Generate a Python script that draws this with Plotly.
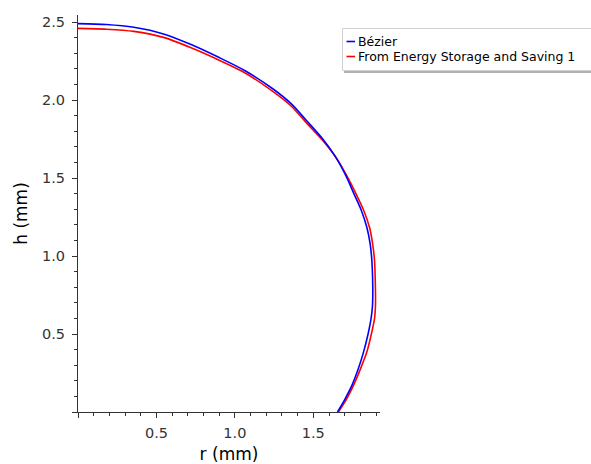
import plotly.graph_objects as go

# ---- data ----
bezier_r = [0.0, 0.18, 0.356, 0.55, 0.717, 0.90, 1.068, 1.246, 1.36, 1.459, 1.56, 1.639,
            1.705, 1.760, 1.805, 1.841, 1.862, 1.873, 1.879, 1.877, 1.868, 1.849,
            1.820, 1.786, 1.746, 1.70, 1.654]
bezier_h = [2.490, 2.484, 2.466, 2.422, 2.357, 2.272, 2.186, 2.069, 1.975, 1.865, 1.750, 1.640,
            1.520, 1.397, 1.295, 1.184, 1.080, 0.971, 0.795, 0.680, 0.598, 0.500,
            0.384, 0.275, 0.171, 0.080, 0.0]

ess_r = [0.0, 0.18, 0.356, 0.55, 0.717, 0.90, 1.068, 1.246, 1.36, 1.459, 1.56, 1.645,
         1.713, 1.773, 1.822, 1.858, 1.878, 1.890, 1.896, 1.896, 1.890, 1.870,
         1.841, 1.800, 1.756, 1.710, 1.660]
ess_h = [2.459, 2.454, 2.440, 2.400, 2.336, 2.255, 2.172, 2.052, 1.960, 1.850, 1.740, 1.630,
         1.515, 1.397, 1.290, 1.184, 1.078, 0.971, 0.779, 0.680, 0.598, 0.500,
         0.384, 0.275, 0.171, 0.080, 0.0]

series_names = ["Bézier", "From Energy Storage and Saving 1"]
series_colors = ["#0000ff", "#ff0000"]

x_tickvals = [0, 0.5, 1.0, 1.5]
x_ticktext = ["", "0.5", "1.0", "1.5"]
y_tickvals = [0, 0.5, 1.0, 1.5, 2.0, 2.5]
y_ticktext = ["", "0.5", "1.0", "1.5", "2.0", "2.5"]

# ---- layout geometry ----
W, H = 591, 464
L, R, T, B = 78, 211, 15, 52
pw, ph = W - L - R, H - T - B


def px(x):
    return (x - L) / pw


def py(y):
    return (H - B - y) / ph


fig = go.Figure()
fig.add_trace(go.Scatter(x=ess_r, y=ess_h, mode="lines", name=series_names[1],
                         line=dict(color=series_colors[1], width=1.6, shape="spline", smoothing=0.6),
                         showlegend=False))
fig.add_trace(go.Scatter(x=bezier_r, y=bezier_h, mode="lines", name=series_names[0],
                         line=dict(color=series_colors[0], width=1.6, shape="spline", smoothing=0.8),
                         showlegend=False))

axis_common = dict(
    showgrid=False, zeroline=False, showline=True, linecolor="#333333", linewidth=1,
    ticks="outside", ticklen=5, tickwidth=1, tickcolor="#333333",
    tickfont=dict(family="DejaVu Sans", size=14.5, color="#333333"),
    minor=dict(tick0=0, dtick=0.1, ticks="outside", ticklen=3, tickwidth=1, tickcolor="#333333"),
)

fig.update_xaxes(range=[0, 1.925], tickvals=x_tickvals, ticktext=x_ticktext,
                 ticklabelstandoff=3,
                 title=dict(text="r (mm)", font=dict(family="DejaVu Sans", size=17, color="#000000"),
                            standoff=10),
                 **axis_common)
fig.update_yaxes(range=[0, 2.545], tickvals=y_tickvals, ticktext=y_ticktext,
                 ticklabelstandoff=4,
                 title=dict(text="h (mm)", font=dict(family="DejaVu Sans", size=17, color="#000000"),
                            standoff=10),
                 **axis_common)

# ---- custom legend (box, shadow, samples, labels) ----
shapes = [
    dict(type="rect", xref="paper", yref="paper", x0=px(344), x1=px(620), y0=py(73), y1=py(30),
         fillcolor="#b0b0b0", line=dict(width=0), layer="above"),
    dict(type="rect", xref="paper", yref="paper", x0=px(342.5), x1=px(620), y0=py(70.5), y1=py(28.5),
         fillcolor="#ffffff", line=dict(color="#d0d0d0", width=1), layer="above"),
]
ys = [41.5, 56.5]
for i in range(2):
    shapes.append(dict(type="line", xref="paper", yref="paper", x0=px(346.5), x1=px(355),
                       y0=py(ys[i]), y1=py(ys[i]), line=dict(color=series_colors[i], width=1.6),
                       layer="above"))
annotations = []
for i in range(2):
    annotations.append(dict(x=px(357), y=py(ys[i]), xref="paper", yref="paper",
                            text=series_names[i], showarrow=False, xanchor="left", yanchor="middle",
                            borderpad=0,
                            font=dict(family="DejaVu Sans", size=12.5, color="#000000")))

fig.update_layout(
    width=W, height=H, margin=dict(l=L, r=R, t=T, b=B, autoexpand=False),
    paper_bgcolor="white", plot_bgcolor="white",
    shapes=shapes, annotations=annotations, showlegend=False,
)

fig.write_html("out.html")
